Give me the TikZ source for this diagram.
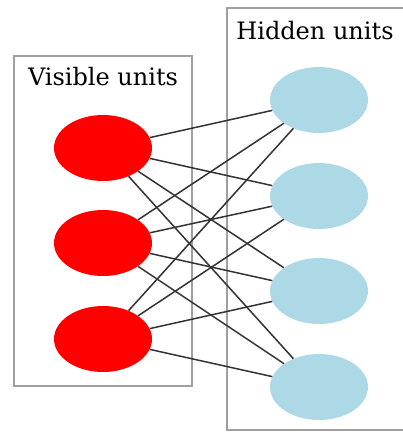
\documentclass[tikz,border=0pt]{standalone}
\usepackage{fontspec}
\setmainfont{DejaVu Serif}
\usetikzlibrary{shapes.geometric}
\definecolor{hiddenblue}{HTML}{ADD8E6}
\definecolor{boxgray}{HTML}{A0A0A0}
\tikzset{
	visible/.style={ellipse, fill=red, minimum width=98pt, minimum height=66pt, inner sep=0pt},
	hidden/.style={ellipse, fill=hiddenblue, minimum width=98pt, minimum height=66pt, inner sep=0pt},
	layerbox/.style={line width=1.3pt, color=boxgray},
	layerlabel/.style={anchor=base, inner sep=0pt, font=\fontsize{24}{28}\selectfont},
	weight/.style={line width=1.5pt, color=black!80}
}

\begin{document}
\begin{tikzpicture}[x=1pt, y=-1pt]
		%%%%% START %%%%%
		
		\useasboundingbox (0, 0) rectangle (403, 432);
		\clip (0, 0) rectangle (403, 432);
		
		% layer boxes
		\draw[layerbox] (14, 56) rectangle (192, 386);
		\draw[layerbox] (227, 8) rectangle (410, 430);
		\node[layerlabel] (vislabel) at (103, 85) {Visible units};
		\node[layerlabel] (hidlabel) at (315, 39) {Hidden units};
		
		% visible units
		\node[visible] (v1) at (103, 148) {};
		\node[visible] (v2) at (103, 243) {};
		\node[visible] (v3) at (103, 339) {};
		
		% hidden units
		\node[hidden] (h1) at (319, 100) {};
		\node[hidden] (h2) at (319, 196) {};
		\node[hidden] (h3) at (319, 291) {};
		\node[hidden] (h4) at (319, 387) {};
		
		% weights
		\foreach \v in {1,2,3}
			\foreach \h in {1,2,3,4}
				\draw[weight] (v\v) -- (h\h);
		
		%%%%% END %%%%%
	\end{tikzpicture}
\end{document}
